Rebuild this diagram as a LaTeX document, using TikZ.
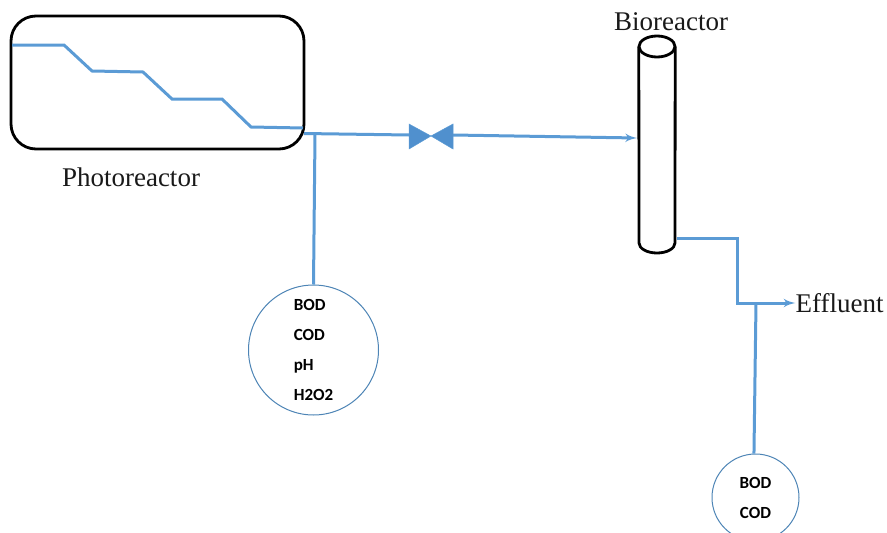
\documentclass[tikz,border=0pt]{standalone}
\usepackage{xcolor}
\usepackage{fontspec}
\setmainfont{Liberation Serif}
\newfontfamily\labelfont{Carlito}
\usetikzlibrary{shapes.geometric, arrows}
\definecolor{pipeblue}{HTML}{5B9BD5}
\definecolor{valveblue}{HTML}{5090CE}

\begin{document}
\begin{tikzpicture}[x=1pt, y=-1pt]
    % Define the style for the nodes
    \tikzstyle{reactor} = [draw, line width=2.8pt, rounded corners=25pt, minimum width=293pt, minimum height=133pt, inner sep=0pt]
    \tikzstyle{column} = [minimum width=36pt, minimum height=217pt, inner sep=0pt]
    \tikzstyle{wall} = [draw, line width=2.8pt]
    \tikzstyle{sample} = [circle, draw=pipeblue!85!black, line width=1pt, inner sep=0pt, font=\labelfont\bfseries\fontsize{17}{30}\selectfont]
    \tikzstyle{title} = [inner sep=0pt, text=black!90, font=\fontsize{27}{30}\selectfont]
    \tikzstyle{line} = [draw=pipeblue, line width=3pt]
    \tikzstyle{flow} = [line, -latex']
    \tikzstyle{valve} = [fill=valveblue, draw=pipeblue, line width=0.5pt]

    \useasboundingbox (0,0) rectangle (887,533);

    % Place the nodes
    \node [reactor] (photo) at (157.5,82.5) {};
    \node [title] (phototext) at (131,177) {Photoreactor};
    \node [column] (bio) at (657,144.5) {};
    \node [title] (biotext) at (671,22) {Bioreactor};
    \node [title] (effluent) at (839.5,303) {Effluent};
    \node [sample, minimum size=130pt, align=left] (probeA) at (313.5,350) {BOD\\COD\\pH\\H2O2\hspace{4pt}};
    \node [sample, minimum size=87pt, align=center] (probeB) at (755.5,497.5) {BOD\\COD};

    % Points on the pipes
    \coordinate (stepA) at (12,45);
    \coordinate (stepB) at (64,45);
    \coordinate (stepC) at (92,71);
    \coordinate (stepD) at (143,72);
    \coordinate (stepE) at (172,99);
    \coordinate (stepF) at (222,99);
    \coordinate (stepG) at (251,127);
    \coordinate (stepH) at (303,128);
    \coordinate (outlet) at (304,133.5);
    \coordinate (tee) at (315,134);
    \coordinate (valveC) at (431,136);
    \coordinate (valveL) at (409,135);
    \coordinate (valveR) at (453,135);
    \coordinate (inlet) at (637,138);
    \coordinate (drain) at (677,238);
    \coordinate (bendA) at (737,238);
    \coordinate (bendB) at (737,303);
    \coordinate (teeB) at (756,303);
    \coordinate (biotop) at (657,46.5);
    \coordinate (biofoot) at (639,243);

    % The bioreactor column
    \path [wall] (biotop) ellipse [x radius=18pt, y radius=10.5pt];
    \path [wall] (bio.west |- biotop) -- (biofoot) arc [start angle=180, end angle=360, x radius=18pt, y radius=10pt] -- (bio.east |- biotop);

    % Connect the nodes with paths
    \path [line] (stepA) -- (stepB) -- (stepC) -- (stepD) -- (stepE) -- (stepF) -- (stepG) -- (stepH);
    \path [line] (outlet) -- (valveL);
    \path [line] (tee) -- (probeA.north);
    \path [flow] (valveR) -- (inlet);
    \path [flow] (drain) -- (bendA) -- (bendB) -- (effluent.west);
    \path [line] (teeB) -- (probeB.92);

    % The valve
    \path [valve] (valveC) -- (409,124) -- (409,149) -- cycle;
    \path [valve] (valveC) -- (453,124) -- (453,149) -- cycle;
\end{tikzpicture}
\end{document}
